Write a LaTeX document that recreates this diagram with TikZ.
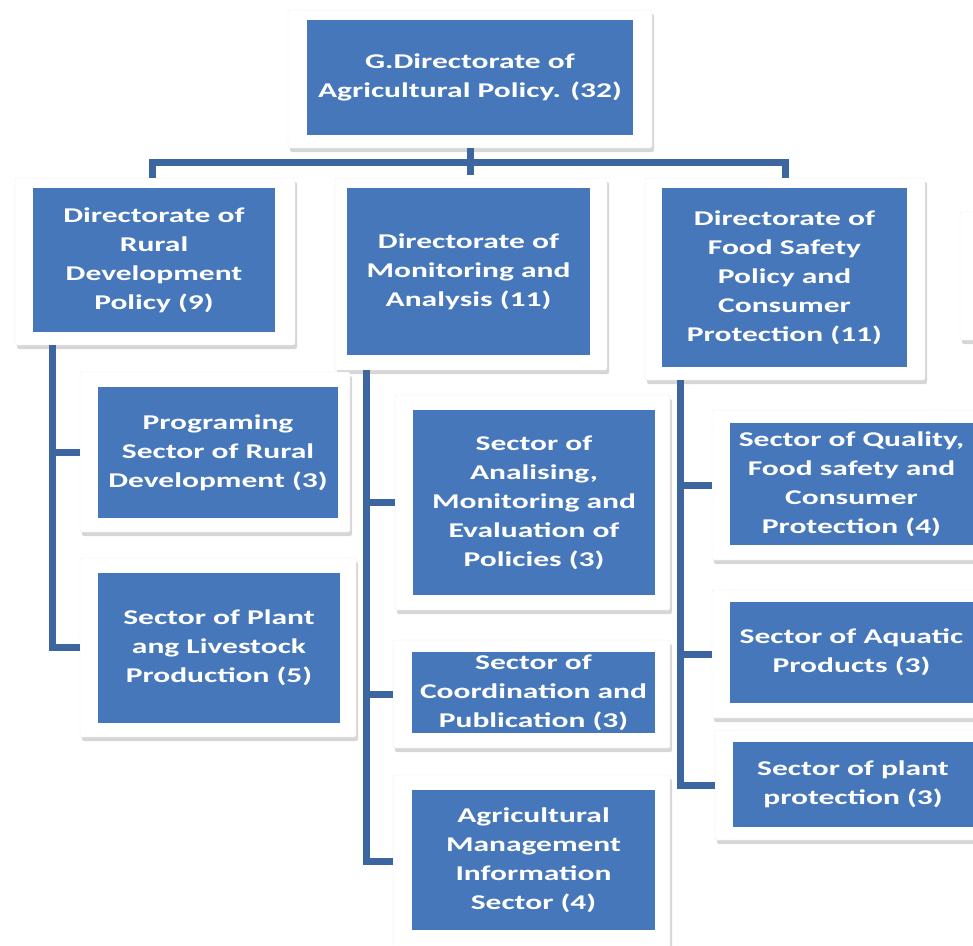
\documentclass[tikz,border=0pt]{standalone}
\usepackage{fontspec}
\newfontfamily\boxfont[FakeStretch=1.5]{Carlito}
\usetikzlibrary{fit,shadows}
\definecolor{boxblue}{HTML}{4677BA}
\definecolor{lineblue}{HTML}{3C66A0}
\tikzset{
  card/.style={fill=white, draw=black!7, rounded corners=2pt, inner sep=0pt,
    drop shadow={shadow xshift=2pt, shadow yshift=-4pt, opacity=0.35, fill=black!45}},
  bluebox/.style={fill=boxblue, draw=none, inner sep=0pt},
  txt/.style={text=white, align=center, font=\boxfont\bfseries\fontsize{21}{29}\selectfont, inner sep=0pt},
  conn/.style={draw=lineblue, line width=7pt}
}
\begin{document}
\begin{tikzpicture}[x=1pt,y=-1pt]
\useasboundingbox (0,0) rectangle (973,945);
\clip (0,0) rectangle (973,945);
\fill[white] (0,0) rectangle (973,945);

% partial card on the far right
\node[card, fit={(960,212) (1010,340)}] (xc) {};

% top
\node[card, fit={(288,10) (652,148)}] (topc) {};
\node[bluebox, fit={(307,20) (633,135)}] (top) {};
\node[txt] (topt) at (top.center) {G.Directorate of\\Agricultural Policy. (32)};

% directorates
\node[card, fit={(15,178) (295,345)}] (ldc) {};
\node[bluebox, fit={(33,188) (275,332)}] (ld) {};
\node[txt] (ldt) at (ld.center) {Directorate of\\Rural\\Development\\Policy (9)};

\node[card, fit={(335,178) (607,370)}] (mdc) {};
\node[bluebox, fit={(347,188) (590,355)}] (md) {};
\node[txt] (mdt) at (md.center) {Directorate of\\Monitoring and\\Analysis (11)};

\node[card, fit={(645,178) (925,380)}] (fdc) {};
\node[bluebox, fit={(662,188) (907,367)}] (fd) {};
\node[txt] (fdt) at (fd.center) {Directorate of\\Food Safety\\Policy and\\Consumer\\Protection (11)};

% left sectors
\node[card, fit={(80,372) (350,532)}] (pgc) {};
\node[bluebox, fit={(98,387) (338,518)}] (pg) {};
\node[txt] (pgt) at (pg.center) {Programing\\Sector of Rural\\Development (3)};

\node[card, fit={(80,558) (356,737)}] (plc) {};
\node[bluebox, fit={(98,573) (340,723)}] (pl) {};
\node[txt] (plt) at (pl.center) {Sector of Plant\\ang Livestock\\Production (5)};

% middle sectors
\node[card, fit={(395,395) (670,610)}] (anc) {};
\node[bluebox, fit={(413,410) (655,595)}] (an) {};
\node[txt] (ant) at (an.center) {Sector of\\Analising,\\Monitoring and\\Evaluation of\\Policies (3)};

\node[card, fit={(393,640) (670,748)}] (coc) {};
\node[bluebox, fit={(412,652) (655,733)}] (co) {};
\node[txt] (cot) at (co.center) {Sector of\\Coordination and\\Publication (3)};

\node[card, fit={(393,775) (670,948)}] (amc) {};
\node[bluebox, fit={(412,790) (655,930)}] (am) {};
\node[txt] (amt) at (am.center) {Agricultural\\Management\\Information\\Sector (4)};

% right sectors
\node[card, fit={(712,410) (995,560)}] (qc) {};
\node[bluebox, fit={(730,423) (973,545)}] (q) {};
\node[txt] (qt) at (q.center) {Sector of Quality,\\Food safety and\\Consumer\\Protection (4)};

\node[card, fit={(712,590) (995,718)}] (aqc) {};
\node[bluebox, fit={(730,602) (973,703)}] (aq) {};
\node[txt] (aqt) at (aq.center) {Sector of Aquatic\\Products (3)};

\node[card, fit={(715,730) (995,840)}] (ppc) {};
\node[bluebox, fit={(733,742) (973,827)}] (pp) {};
\node[txt] (ppt) at (pp.center) {Sector of plant\\protection (3)};

% connectors
\coordinate (busL) at (152,162);
\coordinate (busR) at (785,162);
\coordinate (busM) at (470,175);
\coordinate (spineL) at (52,0);
\coordinate (spineM) at (366,0);
\coordinate (spineR) at (680,0);

\draw[conn] (topc.south) -- (busM);
\draw[conn] (busL |- ldc.north) -- (busL) -- (busR) -- (busR |- fdc.north);

\draw[conn] (ldc.south -| spineL) |- (plc.west);
\draw[conn] (spineL |- pgc.west) -- (pgc.west);

\draw[conn] (mdc.south -| spineM) |- (amc.west);
\draw[conn] (spineM |- anc.west) -- (anc.west);
\draw[conn] (spineM |- coc.west) -- (coc.west);

\draw[conn] (fdc.south -| spineR) |- (ppc.west);
\draw[conn] (spineR |- qc.west) -- (qc.west);
\draw[conn] (spineR |- aqc.west) -- (aqc.west);
\end{tikzpicture}
\end{document}
